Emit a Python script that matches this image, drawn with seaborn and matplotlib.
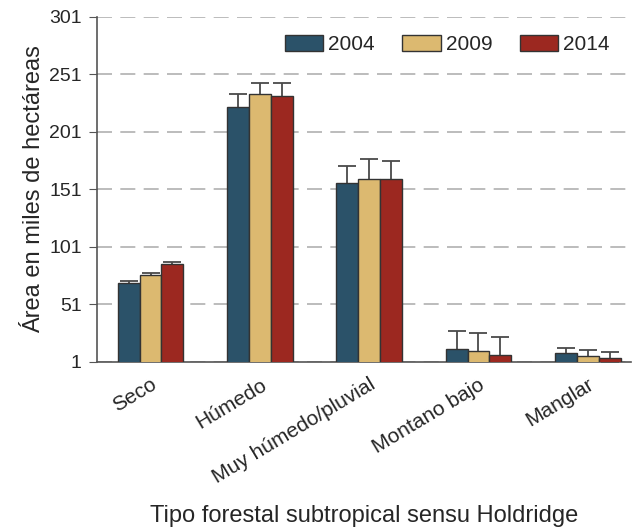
import pandas as pd
import numpy as np
import matplotlib
matplotlib.use("Agg")
import matplotlib.pyplot as plt
import seaborn as sns

categories = ["Seco", "Húmedo", "Muy húmedo/pluvial", "Montano bajo", "Manglar"]
years = ["2004", "2009", "2014"]
area_2004 = [69.4, 223.0, 156.4, 12.3, 8.8]
area_2009 = [76.7, 234.0, 160.1, 10.0, 6.5]
area_2014 = [86.5, 232.3, 160.1, 6.8, 4.7]
err_2004 = [1.8, 11.3, 15.3, 15.9, 4.4]
err_2009 = [2.0, 9.6, 17.4, 16.5, 4.9]
err_2014 = [1.7, 11.3, 15.7, 15.9, 4.7]
colors = ["#2b5269", "#dcb970", "#9c2820"]

df = pd.DataFrame({
    "Tipo": categories * 3,
    "Año": np.repeat(years, len(categories)),
    "Area": area_2004 + area_2009 + area_2014,
    "Err": err_2004 + err_2009 + err_2014,
})

sns.set_style("white")
plt.rcParams["font.family"] = ["Liberation Sans", "DejaVu Sans"]

fig = plt.figure(figsize=(6.34, 5.29), dpi=100)
ax = fig.add_axes([0.153, 0.316, 0.843, 0.652])

sns.barplot(data=df, x="Tipo", y="Area", hue="Año", palette=colors,
            saturation=1, width=0.6, edgecolor="#333333", linewidth=1.0,
            ax=ax, zorder=3, errorbar=None)

# error bars (upper part visible above bars)
for container, yr in zip(ax.containers, years):
    sub = df[df["Año"] == yr]
    xs = [p.get_x() + p.get_width() / 2 for p in container.patches]
    ax.errorbar(xs, sub["Area"].values, yerr=sub["Err"].values, fmt="none",
                ecolor="#4a4a4a", elinewidth=1.3, capsize=6.5, capthick=1.3,
                zorder=2)

ax.set_ylim(1, 301)
ax.set_yticks([1, 51, 101, 151, 201, 251, 301])
ax.yaxis.grid(True, linestyle=(0, (9, 5)), color="#b0b0b0", linewidth=1.2, zorder=0)
ax.set_axisbelow(True)
ax.set_xlim(-0.49, 4.4)

for s in ["top", "right"]:
    ax.spines[s].set_visible(False)
for s in ["left", "bottom"]:
    ax.spines[s].set_color("#555555")
    ax.spines[s].set_linewidth(1.2)

ax.tick_params(axis="y", left=True, length=6, color="#555555", labelsize=14, pad=5)
ax.tick_params(axis="x", bottom=False, labelsize=15, pad=6)
plt.setp(ax.get_xticklabels(), rotation=31, ha="right", rotation_mode="anchor")

ax.set_ylabel("Área en miles de hectáreas", fontsize=17, labelpad=3)
ax.set_xlabel("Tipo forestal subtropical sensu Holdridge", fontsize=17, labelpad=13)

leg = ax.legend(loc="upper right", ncol=3, frameon=False, fontsize=15,
                handlelength=1.85, handleheight=0.82, columnspacing=1.3,
                handletextpad=0.25, bbox_to_anchor=(0.975, 0.973), borderaxespad=0)
for h in leg.legend_handles:
    h.set_edgecolor("#333333")

fig.savefig("out.png", dpi=100)
